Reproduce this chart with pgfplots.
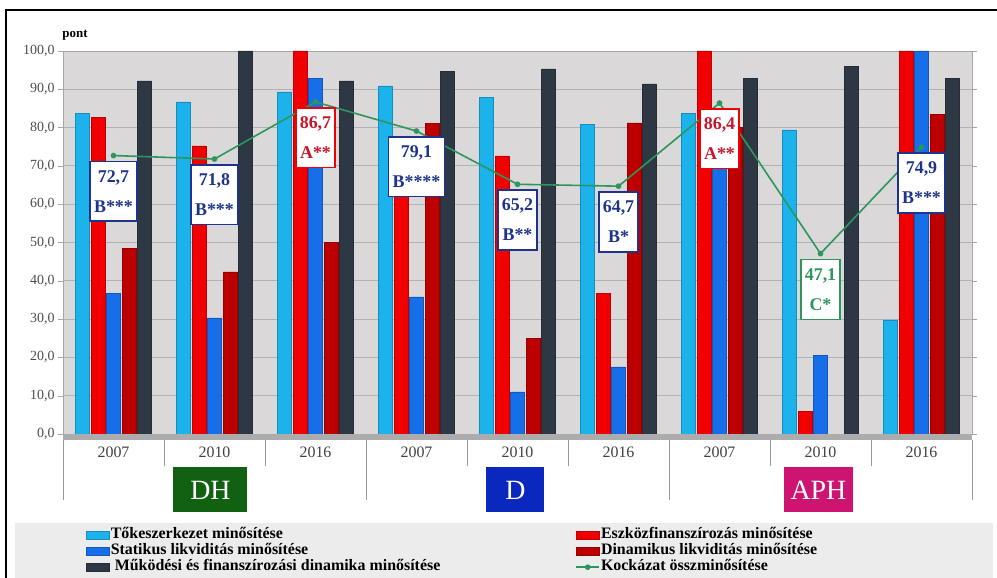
\documentclass[border=0pt]{standalone}
\usepackage{fontspec}
\setmainfont{Liberation Serif}
\usepackage{pgfplots}
\pgfplotsset{compat=1.18}

\definecolor{ctoke}{RGB}{28,178,236}
\definecolor{ceszk}{RGB}{240,0,0}
\definecolor{cstat}{RGB}{22,110,232}
\definecolor{cdin}{RGB}{188,0,0}
\definecolor{cmuk}{RGB}{46,56,68}
\definecolor{ckock}{RGB}{44,150,92}
\definecolor{cnavy}{RGB}{30,52,140}
\definecolor{clblred}{RGB}{200,20,40}
\definecolor{plotbg}{RGB}{218,216,216}
\definecolor{legbg}{RGB}{236,236,236}
\definecolor{cdh}{RGB}{18,96,18}
\definecolor{cd}{RGB}{10,40,190}
\definecolor{caph}{RGB}{204,20,112}

\tikzset{
  cyl/.style={draw=#1!80!black, line width=0.6bp, fill=#1},
  lbl/.style={anchor=north, yshift=-5bp, fill=white, line width=1.6bp, align=center,
    inner xsep=4bp, inner ysep=9bp, font=\bfseries\fontsize{18}{30}\selectfont},
  grp/.style={text=white, minimum width=#1, minimum height=45bp, inner sep=0pt,
    font=\fontsize{28}{28}\selectfont},
  sep/.style={draw=gray!80, line width=1bp},
}
\pgfplotsset{
  barleg/.style={legend image code/.code={\fill[##1] (0bp,-4bp) rectangle (23bp,4bp);}},
  lineleg/.style={legend image code/.code={\draw[##1, mark repeat=2, mark phase=2]
    plot coordinates {(0bp,0bp) (11.5bp,0bp) (23bp,0bp)};}},
}

\begin{document}
\begin{tikzpicture}[x=1bp,y=1bp]
\useasboundingbox (0,0) rectangle (997,578);
\fill[legbg] (15,0) rectangle (993,55);
\draw[line width=2.2bp] (6,-5) -- (6,568) -- (1005,568);
\node[font=\bfseries\fontsize{13}{13}\selectfont] at (75,543) {pont};

\begin{axis}[
  name=ax, at={(63bp,144bp)}, anchor=south west,
  width=909bp, height=383bp, scale only axis,
  xmin=0, xmax=9, ymin=0, ymax=100,
  clip=false,
  axis background/.style={fill=plotbg},
  axis line style={draw=gray!70},
  ytick={0,10,...,100},
  /pgf/number format/fixed, /pgf/number format/fixed zerofill,
  /pgf/number format/precision=1, /pgf/number format/use comma,
  /pgf/number format/assume math mode=true,
  yticklabel style={font=\fontsize{14}{14}\selectfont, text=black!70},
  ymajorgrids, grid style={draw=gray!60, line width=0.8bp},
  major tick length=5bp, tick align=outside,
  y tick style={draw=gray!70},
  xtick={0.5,1.5,...,8.5},
  xticklabels={2007,2010,2016,2007,2010,2016,2007,2010,2016},
  x tick style={draw=none},
  xticklabel style={font=\fontsize{16}{16}\selectfont, text=black!75, yshift=-4bp},
  legend columns=2,
  legend cell align=left,
  legend style={draw=none, fill=none, at={(0.0220,-0.2376)}, anchor=north west,
    font=\bfseries\fontsize{16}{16}\selectfont,
    nodes={inner xsep=1bp, inner ysep=0.5bp, text height=11bp, text depth=4bp},
    /tikz/every even column/.append style={column sep=134bp}},
]
\addplot[ybar, bar width=14bp, bar shift=-31bp, cyl=ctoke, barleg] coordinates
  {(0.5,83.8) (1.5,86.7) (2.5,89.3) (3.5,90.9) (4.5,87.8) (5.5,80.9) (6.5,83.8) (7.5,79.4) (8.5,29.8)};
\addlegendentry{Tőkeszerkezet minősítése}
\addplot[ybar, bar width=14bp, bar shift=-15.5bp, cyl=ceszk, barleg] coordinates
  {(0.5,82.7) (1.5,75.2) (2.5,100) (3.5,72) (4.5,72.6) (5.5,36.8) (6.5,100) (7.5,6) (8.5,100)};
\addlegendentry{Eszközfinanszírozás minősítése}
\addplot[ybar, bar width=14bp, bar shift=0bp, cyl=cstat, barleg] coordinates
  {(0.5,36.8) (1.5,30.3) (2.5,92.9) (3.5,35.8) (4.5,11) (5.5,17.5) (6.5,76) (7.5,20.6) (8.5,100)};
\addlegendentry{Statikus likviditás minősítése}
\addplot[ybar, bar width=14bp, bar shift=15.5bp, cyl=cdin, barleg] coordinates
  {(0.5,48.5) (1.5,42.3) (2.5,50.1) (3.5,81) (4.5,25) (5.5,81.2) (6.5,80) (8.5,83.5)};
\addlegendentry{Dinamikus likviditás minősítése}
\addplot[ybar, bar width=14bp, bar shift=31bp, cyl=cmuk, barleg] coordinates
  {(0.5,92.2) (1.5,100) (2.5,92.2) (3.5,94.6) (4.5,95.3) (5.5,91.4) (6.5,92.9) (7.5,96) (8.5,92.9)};
\addlegendentry{\ Működési és finanszírozási dinamika minősítése}
\addplot[color=ckock, line width=1.6bp, mark=*, mark size=2bp, mark options={fill=ckock}, lineleg]
  coordinates
  {(0.5,72.7) (1.5,71.8) (2.5,86.7) (3.5,79.1) (4.5,65.2) (5.5,64.7) (6.5,86.4) (7.5,47.1) (8.5,74.9)};
\addlegendentry{Kockázat összminősítése}

% floor and separators
\fill[gray!65] ([yshift=-6bp]axis cs:0,0) rectangle (axis cs:9,0);
\draw[sep] ([yshift=-6bp]axis cs:1,0) -- ([yshift=-32bp]axis cs:1,0);
\draw[sep] ([yshift=-6bp]axis cs:2,0) -- ([yshift=-32bp]axis cs:2,0);
\draw[sep] ([yshift=-6bp]axis cs:4,0) -- ([yshift=-32bp]axis cs:4,0);
\draw[sep] ([yshift=-6bp]axis cs:5,0) -- ([yshift=-32bp]axis cs:5,0);
\draw[sep] ([yshift=-6bp]axis cs:7,0) -- ([yshift=-32bp]axis cs:7,0);
\draw[sep] ([yshift=-6bp]axis cs:8,0) -- ([yshift=-32bp]axis cs:8,0);
\draw[sep] ([yshift=-6bp]axis cs:0,0) -- ([yshift=-66bp]axis cs:0,0);
\draw[sep] ([yshift=-6bp]axis cs:3,0) -- ([yshift=-66bp]axis cs:3,0);
\draw[sep] ([yshift=-6bp]axis cs:6,0) -- ([yshift=-66bp]axis cs:6,0);
\draw[sep] ([yshift=-6bp]axis cs:9,0) -- ([yshift=-66bp]axis cs:9,0);

% value labels
\node[lbl, draw=cnavy, text=cnavy] at (axis cs:0.5,72.7) {72,7\\B***};
\node[lbl, draw=cnavy, text=cnavy] at (axis cs:1.5,71.8) {71,8\\B***};
\node[lbl, draw=ceszk, text=clblred] at (axis cs:2.5,86.7) {86,7\\A**};
\node[lbl, draw=cnavy, text=cnavy] at (axis cs:3.5,79.1) {79,1\\B****};
\node[lbl, draw=cnavy, text=cnavy] at (axis cs:4.5,65.2) {65,2\\B**};
\node[lbl, draw=cnavy, text=cnavy] at (axis cs:5.5,64.7) {64,7\\B*};
\node[lbl, draw=ceszk, text=clblred] at (axis cs:6.5,86.4) {86,4\\A**};
\node[lbl, draw=ckock, text=ckock] at (axis cs:7.5,47.1) {47,1\\C*};
\node[lbl, draw=cnavy, text=cnavy] at (axis cs:8.5,74.9) {74,9\\B***};

% group boxes
\node[grp=74bp, fill=cdh] at ([yshift=-56bp]axis cs:1.46,0) {DH};
\node[grp=58bp, fill=cd] at ([yshift=-56bp]axis cs:4.48,0) {D};
\node[grp=69bp, fill=caph] at ([yshift=-56bp]axis cs:7.48,0) {APH};
\end{axis}
\end{tikzpicture}
\end{document}
